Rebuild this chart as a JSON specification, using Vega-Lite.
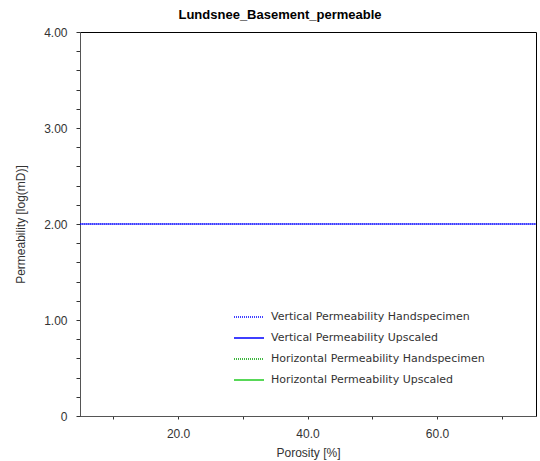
{
  "$schema": "https://vega.github.io/schema/vega-lite/v6.json",
  "autosize": "none",
  "padding": {"left": 80, "top": 32, "right": 4, "bottom": 45},
  "width": 456,
  "height": 384,
  "background": "white",
  "title": {
    "text": "Lundsnee_Basement_permeable",
    "font": "Liberation Sans",
    "fontSize": 13,
    "fontWeight": "bold",
    "color": "#000000",
    "anchor": "middle",
    "dx": -28,
    "offset": 4
  },
  "config": {
    "view": {"stroke": "#000000", "strokeWidth": 1},
    "axis": {
      "labelFont": "Liberation Sans",
      "labelFontSize": 12,
      "labelColor": "#333333",
      "titleFont": "Liberation Sans",
      "titleFontSize": 12,
      "titleFontWeight": "normal",
      "titleColor": "#333333",
      "domainColor": "#555555",
      "tickColor": "#333333",
      "grid": false
    }
  },
  "data": {
    "values": [
      {"porosity": 4.85, "perm": 2.0, "series": "Vertical Permeability Upscaled"},
      {"porosity": 75.3, "perm": 2.0, "series": "Vertical Permeability Upscaled"},
      {"porosity": 4.85, "perm": 2.0, "series": "Vertical Permeability Handspecimen"},
      {"porosity": 75.3, "perm": 2.0, "series": "Vertical Permeability Handspecimen"}
    ]
  },
  "mark": {"type": "line", "strokeWidth": 1.2, "clip": true},
  "encoding": {
    "x": {
      "field": "porosity",
      "type": "quantitative",
      "scale": {"domain": [4.85, 75.3], "nice": false, "zero": false},
      "axis": {
        "title": "Porosity [%]",
        "values": [10, 20, 30, 40, 50, 60, 70],
        "labelExpr": "datum.value % 20 === 0 ? format(datum.value, '.1f') : ''",
        "tickSize": 3,
        "labelPadding": 9,
        "titlePadding": 8
      }
    },
    "y": {
      "field": "perm",
      "type": "quantitative",
      "scale": {"domain": [0, 4], "nice": false},
      "axis": {
        "title": "Permeability [log(mD)]",
        "values": [0, 0.2, 0.4, 0.6, 0.8, 1, 1.2, 1.4, 1.6, 1.8, 2, 2.2, 2.4, 2.6, 2.8, 3, 3.2, 3.4, 3.6, 3.8, 4],
        "labelExpr": "datum.value === 0 ? '0' : (abs(datum.value - round(datum.value)) < 0.001 ? format(datum.value, '.2f') : '')",
        "tickSize": 4,
        "labelPadding": 9,
        "titlePadding": 16
      }
    },
    "color": {
      "field": "series",
      "type": "nominal",
      "scale": {
        "domain": ["Vertical Permeability Handspecimen", "Vertical Permeability Upscaled", "Horizontal Permeability Handspecimen", "Horizontal Permeability Upscaled"],
        "range": ["#0000ff", "#0000ff", "#00a000", "#22cc22"]
      },
      "sort": null,
      "legend": {
        "title": null,
        "orient": "none",
        "legendX": 153,
        "legendY": 269,
        "symbolType": "stroke",
        "symbolSize": 900,
        "symbolStrokeWidth": 1.5,
        "labelFont": "DejaVu Sans",
        "labelFontSize": 11,
        "labelColor": "#333333",
        "labelLimit": 320,
        "labelOffset": 6,
        "rowPadding": -7,
        "padding": 0
      }
    },
    "strokeDash": {
      "field": "series",
      "type": "nominal",
      "scale": {
        "domain": ["Vertical Permeability Handspecimen", "Vertical Permeability Upscaled", "Horizontal Permeability Handspecimen", "Horizontal Permeability Upscaled"],
        "range": [[1, 1], [1, 0], [1, 1], [1, 0]]
      },
      "sort": null,
      "legend": {
        "title": null,
        "orient": "none",
        "legendX": 153,
        "legendY": 269
      }
    },
    "order": {"field": "series", "sort": "descending"}
  }
}
